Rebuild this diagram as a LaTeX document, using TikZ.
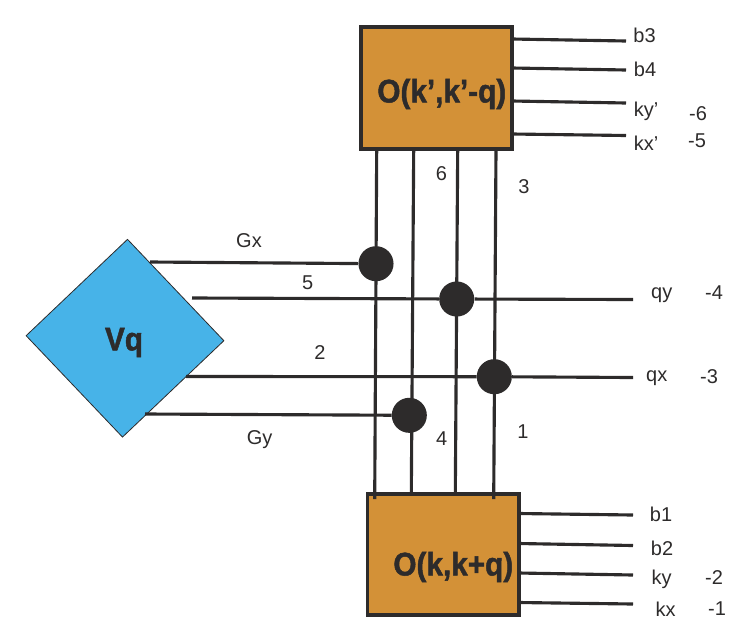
\documentclass[tikz,border=0pt]{standalone}
\usepackage{fontspec}
\setmainfont{Liberation Sans}
\newfontfamily\heavyfont[FakeBold=1.5,FakeStretch=0.91]{Liberation Sans Bold}
\usetikzlibrary{shapes.geometric}
\definecolor{ink}{HTML}{2D2B2B}
\definecolor{boxfill}{HTML}{D39137}
\definecolor{vqfill}{HTML}{47B3E8}
\tikzset{
  wire/.style={draw=ink,line width=2.35pt},
  opbox/.style={rectangle,draw=ink,line width=2.3pt,fill=boxfill,inner sep=0pt,outer sep=0pt},
  vertex/.style={circle,fill=ink,inner sep=0pt,minimum size=26.3pt},
  lbl/.style={inner sep=0pt,text=ink,font=\fontsize{15}{17}\selectfont},
  big/.style={inner sep=0pt,text=ink,font=\fontsize{24.5}{26}\heavyfont}
}
\begin{document}
\begin{tikzpicture}[x=0.75pt,y=-0.75pt]
\useasboundingbox (0,0) rectangle (748,636);

% vertical wires between the two operator blocks
\coordinate (t1) at (376.7,149); \coordinate (u1) at (374.7,499);
\coordinate (t2) at (413.7,149); \coordinate (u2) at (411.3,494);
\coordinate (t3) at (457.7,149); \coordinate (u3) at (455.3,494);
\coordinate (t4) at (496,149);   \coordinate (u4) at (493.7,499);

% interaction block
\node[diamond,draw=ink,line width=0.6pt,fill=vqfill,aspect=1,inner sep=0pt,
      minimum width=148.6pt,minimum height=148.6pt,rotate=-1.45]
      (vq) at (125,338.2) {};
\node[big] (vqtext) at (124,342.5) {Vq};

% operator blocks
\node[opbox,minimum width=113.25pt,minimum height=91.5pt] (topbox) at (436.5,88) {};
\node[opbox,minimum width=113.6pt,minimum height=90.75pt] (botbox) at (443.25,554.5) {};

\foreach \i in {1,2,3,4} \draw[wire] (t\i) -- (u\i);

% vertices
\node[vertex] (gxdot) at (376,263.7) {};
\node[vertex] (qydot) at (456.7,299) {};
\node[vertex] (qxdot) at (494.3,376.7) {};
\node[vertex] (gydot) at (409.3,415.3) {};

% wires leaving the interaction block
\coordinate (vgx) at (150,262);
\coordinate (vqy) at (192,298);
\coordinate (vqx) at (186,376.5);
\coordinate (vgy) at (145,414);
\coordinate (eqy) at (633,299.5);
\coordinate (eqx) at (633,377.5);
\draw[wire] (vgx) -- (gxdot);
\draw[wire] (vgy) -- (gydot);
\draw[wire] (vqy) -- (qydot) -- (eqy);
\draw[wire] (vqx) -- (qxdot) -- (eqx);

% external legs of the upper block
\coordinate (a1) at (512,39);    \coordinate (b1) at (626,41);
\coordinate (a2) at (512,68);    \coordinate (b2) at (626,70);
\coordinate (a3) at (512,101);   \coordinate (b3) at (626,103);
\coordinate (a4) at (512,134);   \coordinate (b4) at (626,135.5);
% external legs of the lower block
\coordinate (c1) at (519,513.5); \coordinate (d1) at (633,515);
\coordinate (c2) at (519,543.5); \coordinate (d2) at (633,545.5);
\coordinate (c3) at (519,573);   \coordinate (d3) at (633,575);
\coordinate (c4) at (519,602.5); \coordinate (d4) at (633,604);
\foreach \i in {1,2,3,4} {
  \draw[wire] (a\i) -- (b\i);
  \draw[wire] (c\i) -- (d\i);
}

% block titles
\node[big] (toplabel) at (441.8,94) {O(k’,k’-q)};
\node[big] (botlabel) at (453.3,567) {O(k,k+q)};

% leg labels
\node[lbl] (lb3) at (644.5,35) {b3};
\node[lbl] (lb4) at (645,69) {b4};
\node[lbl] (lkyp) at (646,111) {ky’};
\node[lbl] (lkxp) at (646,143) {kx’};
\node[lbl] (ln6) at (698,114) {-6};
\node[lbl] (ln5) at (697,141) {-5};
\node[lbl] (lb1) at (661,514) {b1};
\node[lbl] (lb2) at (662,548) {b2};
\node[lbl] (lky) at (661.7,579) {ky};
\node[lbl] (lkx) at (665.7,609) {kx};
\node[lbl] (ln2) at (714,578) {-2};
\node[lbl] (ln1) at (717,609) {-1};
\node[lbl] (lqy) at (661.7,294.7) {qy};
\node[lbl] (ln4) at (714,293) {-4};
\node[lbl] (lqx) at (656.7,378.3) {qx};
\node[lbl] (ln3) at (709,376.7) {-3};

% wire labels
\node[lbl] (lgx) at (249,241) {Gx};
\node[lbl] (lgy) at (259.7,440) {Gy};
\node[lbl] (l5) at (307.7,283) {5};
\node[lbl] (l2) at (320,353) {2};
\node[lbl] (l6) at (441.5,174) {6};
\node[lbl] (l3) at (524,187) {3};
\node[lbl] (l4) at (441.7,439) {4};
\node[lbl] (l1) at (523,432) {1};
\end{tikzpicture}
\end{document}
